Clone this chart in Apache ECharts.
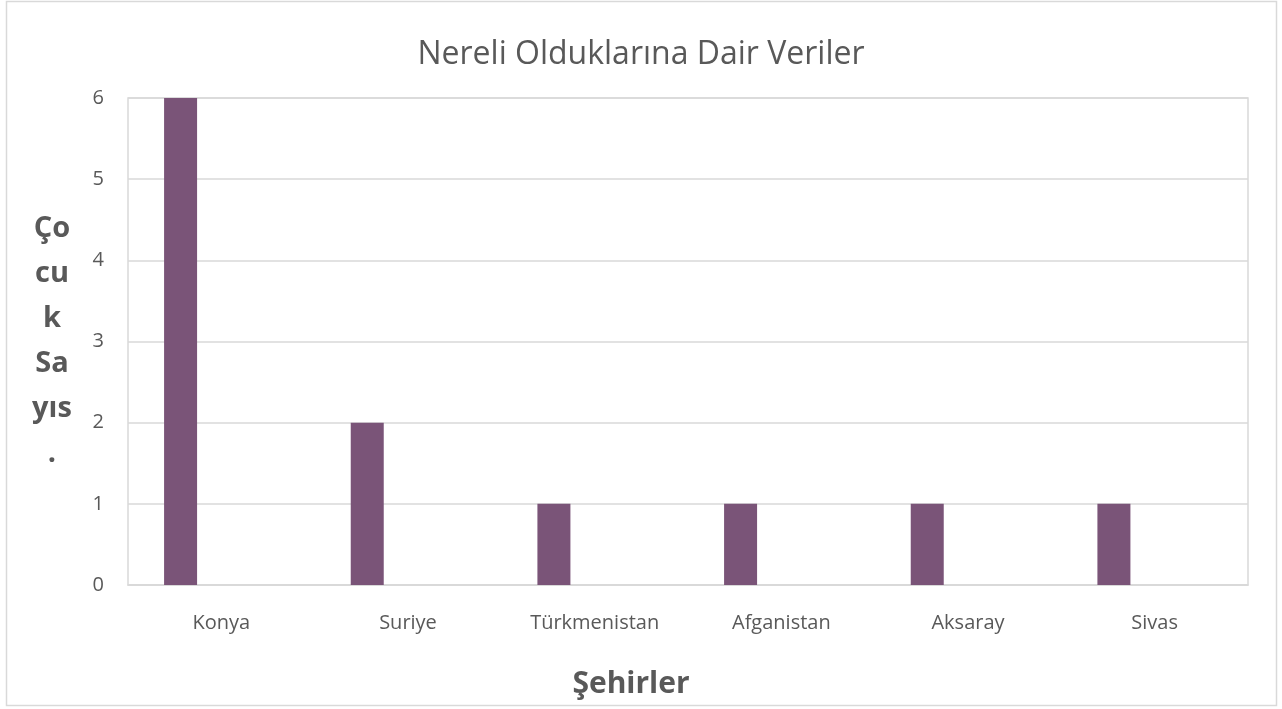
<!DOCTYPE html>
<html><head><meta charset="utf-8">
<script src="https://cdn.jsdelivr.net/npm/echarts@6/dist/echarts.min.js"></script>
<style>html,body{margin:0;padding:0;background:#fff}#c{width:1282px;height:709px}</style>
</head><body><div id="c"></div>
<script>
const categories = ['Konya','Suriye','Türkmenistan','Afganistan','Aksaray','Sivas'];
const values = [6,2,1,1,1,1];
const emptySeries = [null,null,null,null,null,null];
const yTicks = {min:0,max:6,interval:1};
const titleText = 'Nereli Olduklarına Dair Veriler';
const yName = 'Ço\ncu\nk\nSa\nyıs\n.';
const xName = 'Şehirler';

const chart = echarts.init(document.getElementById('c'));
const font = '"Open Sans", "Liberation Sans", sans-serif';
chart.setOption({
  animation:false,
  backgroundColor:'#fff',
  title:{text:titleText,left:'center',top:34,textStyle:{fontFamily:font,fontSize:32,fontWeight:'normal',color:'#595959'}},
  graphic:[
    {type:'rect',shape:{x:6.5,y:1.5,width:1270,height:704},style:{fill:'none',stroke:'#d9d9d9',lineWidth:1.5},silent:true},
    {type:'text',x:631,y:684,style:{text:xName,x:0,y:0,align:'center',verticalAlign:'middle',font:'bold 30px '+font,fill:'#595959'}}
  ],
  grid:{left:128,right:34,top:98,bottom:124,show:true,borderColor:'#d9d9d9',borderWidth:1.5,outerBoundsMode:'none',containLabel:false},
  xAxis:{type:'category',data:categories,
    axisLine:{lineStyle:{color:'#d9d9d9',width:1.5}},axisTick:{show:false},
    axisLabel:{fontFamily:font,fontSize:20,color:'#595959',margin:28}},
  yAxis:{type:'value',min:yTicks.min,max:yTicks.max,interval:yTicks.interval,
    axisLine:{show:false},axisTick:{show:false},
    splitLine:{lineStyle:{color:'#d9d9d9',width:1.5}},
    axisLabel:{fontFamily:font,fontSize:20,color:'#595959',margin:24},
    name:yName,nameLocation:'middle',nameRotate:0,nameGap:76,
    nameTextStyle:{fontFamily:font,fontSize:29,fontWeight:'bold',color:'#595959',lineHeight:45,align:'center',padding:[10,0,0,0]}},
  series:[
    {type:'bar',data:values,barWidth:33,barGap:'147%',itemStyle:{color:'#7a5478'}},
    {type:'bar',data:emptySeries,barWidth:33,itemStyle:{color:'#7a5478'}}
  ]
});
</script></body></html>
